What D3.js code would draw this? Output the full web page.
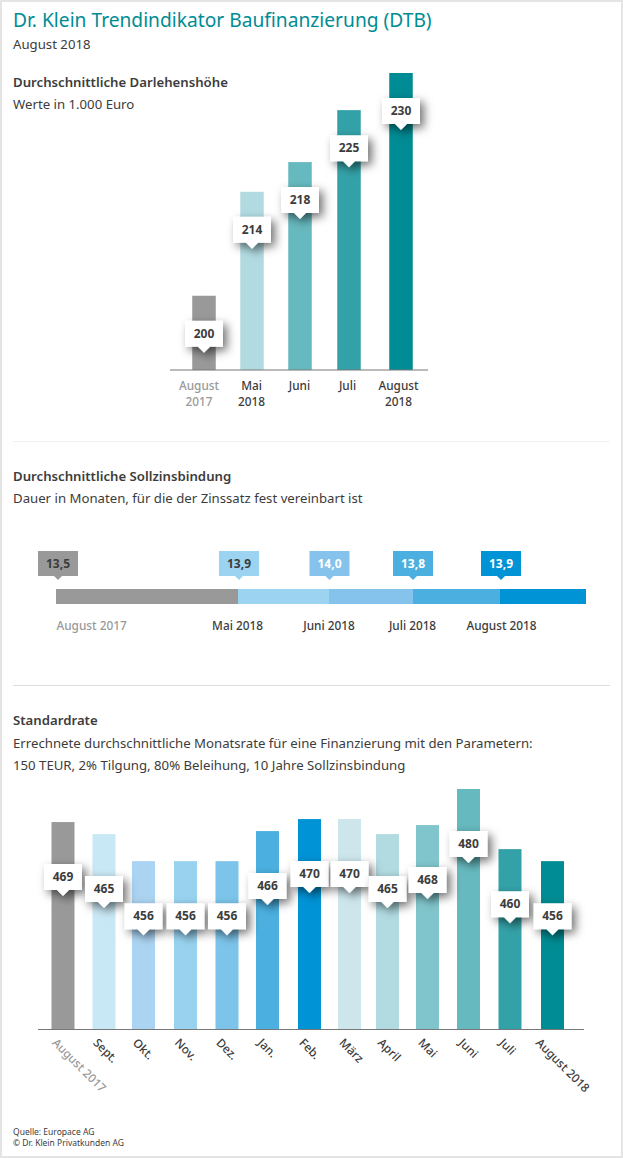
<!DOCTYPE html>
<html>
<head>
<meta charset="utf-8">
<script src="https://cdn.jsdelivr.net/npm/d3@7"></script>
<style>
html, body { margin: 0; padding: 0; background: #fff; }
svg { display: block; font-family: "Noto Sans", sans-serif; }
.txt { fill: #3c3c3c; }
.head { font-weight: 600; font-size: 13.2px; }
.sub { font-size: 13.2px; }
.tag { font-weight: 700; font-size: 12px; text-anchor: middle; }
</style>
</head>
<body>
<div class="main"></div>
<script>
// Darlehenshoehe
var loanCats = ['August 2017', 'Mai 2018', 'Juni', 'Juli', 'August 2018'];
var loanVals = [200, 214, 218, 225, 230];
var loanColors = ['#999999', '#b1dbe1', '#66b9be', '#33a2a8', '#008c94'];

// Sollzinsbindung
var fixCats = ['August 2017', 'Mai 2018', 'Juni 2018', 'Juli 2018', 'August 2018'];
var fixVals = ['13,5', '13,9', '14,0', '13,8', '13,9'];
var fixColors = ['#999999', '#9bd3f0', '#85c3ec', '#4bb0e0', '#0093d6'];
var fixTagText = ['#3c3c3c', '#3c3c3c', '#ffffff', '#ffffff', '#ffffff'];

// Standardrate
var rateCats = ['August 2017', 'Sept.', 'Okt.', 'Nov.', 'Dez.', 'Jan.', 'Feb.', 'März', 'April', 'Mai', 'Juni', 'Juli', 'August 2018'];
var rateVals = [469, 465, 456, 456, 456, 466, 470, 470, 465, 468, 480, 460, 456];
var rateColors = ['#999999', '#c9e8f5', '#abd4f2', '#98d2ef', '#7cc4ea', '#4bb0e0', '#0093d6', '#cce6ec', '#b1dbe1', '#80c5cb', '#66b9be', '#33a2a8', '#008c94'];

var width = 623, height = 1159;
var tagW = 38, tagH = 26, tagTip = 6;
var font = '"Noto Sans", sans-serif';

var svg = d3.select('.main').append('svg')
    .attr('width', width)
    .attr('height', height);

var shadow = svg.append('defs').append('filter')
    .attr('id', 'tagShadow')
    .attr('x', '-40%').attr('y', '-40%')
    .attr('width', '200%').attr('height', '200%');
shadow.append('feDropShadow')
    .attr('dx', 4).attr('dy', 4)
    .attr('stdDeviation', 5)
    .attr('flood-color', '#000')
    .attr('flood-opacity', 0.55);

svg.append('rect')
    .attr('x', 1).attr('y', 1)
    .attr('width', width - 2).attr('height', height - 3)
    .attr('fill', '#fff')
    .attr('stroke', '#e4e4e4')
    .attr('stroke-width', 2);

function text(x, y, str, cls, size) {
  var t = svg.append('text')
      .attr('class', 'txt ' + cls)
      .attr('x', x)
      .attr('y', y)
      .text(str);
  if (size) t.style('font-size', size + 'px');
  return t;
}

function tagPath(w, h, tip) {
  var p = d3.path();
  p.moveTo(-w / 2, 0);
  p.lineTo(w / 2, 0);
  p.lineTo(w / 2, h);
  p.lineTo(tip, h);
  p.lineTo(0, h + tip);
  p.lineTo(-tip, h);
  p.lineTo(-w / 2, h);
  p.closePath();
  return p.toString();
}

// one tag per category, hanging tagOffset below the top of its bar
function tags(cats, vals, x, y, tagOffset) {
  var g = svg.append('g').selectAll('g')
      .data(cats)
      .enter().append('g')
      .attr('transform', function(d, i) {
        return 'translate(' + x(d) + ',' + (y(vals[i]) + tagOffset) + ')';
      });
  g.append('path')
      .attr('d', tagPath(tagW, tagH, tagTip))
      .attr('fill', '#fff')
      .attr('filter', 'url(#tagShadow)');
  g.append('text')
      .attr('class', 'txt tag')
      .attr('y', 17)
      .text(function(d, i) { return vals[i]; });
}

function bars(cats, vals, colors, x, y, barW) {
  svg.append('g').selectAll('rect')
      .data(cats)
      .enter().append('rect')
      .attr('x', function(d) { return x(d) - barW / 2; })
      .attr('y', function(d, i) { return y(vals[i]); })
      .attr('width', barW)
      .attr('height', function(d, i) { return y.range()[0] - y(vals[i]); })
      .attr('fill', function(d, i) { return colors[i]; });
}

function baseline(x1, x2, y) {
  svg.append('line')
      .attr('x1', x1).attr('x2', x2)
      .attr('y1', y).attr('y2', y)
      .attr('stroke', '#777');
}

function divider(y, color) {
  svg.append('line')
      .attr('x1', 13).attr('x2', 610)
      .attr('y1', y).attr('y2', y)
      .attr('stroke', color);
}

// axis labels: no domain line, own font, first one greyed
function styleTicks(axis) {
  axis.select('.domain').remove();
  return axis.selectAll('.tick text')
      .attr('dy', null)
      .style('font-family', font)
      .style('font-weight', 500)
      .style('font-size', '11.8px')
      .style('fill', function(d, i) { return i === 0 ? '#999' : '#3c3c3c'; });
}

// header
text(13, 27, 'Dr. Klein Trendindikator Baufinanzierung (DTB)', 'title', 19.2)
    .style('fill', '#008c94');
text(13, 49, 'August 2018', 'sub');

// chart 1
text(13, 87, 'Durchschnittliche Darlehenshöhe', 'head');
text(13, 109, 'Werte in 1.000 Euro', 'sub');

var loanX = d3.scaleOrdinal().domain(loanCats).range([204, 252, 300, 349, 401]);
var loanLabelX = d3.scaleOrdinal().domain(loanCats).range([198.5, 251, 299, 347, 398]);
var loanY = d3.scaleLinear().domain([190, 230]).range([370, 73]);

bars(loanCats, loanVals, loanColors, loanX, loanY, 23.5);
baseline(170, 428, 370);
tags(loanCats, loanVals, loanX, loanY, 25);

var loanAxis = svg.append('g')
    .attr('transform', 'translate(0,370)')
    .call(d3.axisBottom(loanLabelX).tickSize(0).tickPadding(0).tickFormat(''));
styleTicks(loanAxis)
    .attr('y', 0)
    .each(function(d) {
      var el = d3.select(this);
      d.split(' ').forEach(function(p, k) {
        el.append('tspan').attr('x', 0).attr('y', 20 + k * 15.5).text(p);
      });
    });

divider(441.5, '#f1f1f1');

// chart 2
text(13, 481, 'Durchschnittliche Sollzinsbindung', 'head');
text(13, 503, 'Dauer in Monaten, für die der Zinssatz fest vereinbart ist', 'sub');

var fixEdge = d3.scaleOrdinal().domain(fixCats).range([56, 238, 329, 413, 500]);
var fixEnd = d3.scaleOrdinal().domain(fixCats).range([238, 329, 413, 500, 586]);
var fixTagX = d3.scaleOrdinal().domain(fixCats).range([58, 239, 329.5, 413, 501]);
var fixLabelX = d3.scaleOrdinal().domain(fixCats).range([56, 237, 328.5, 412, 501]);

svg.append('g').selectAll('rect')
    .data(fixCats)
    .enter().append('rect')
    .attr('x', function(d) { return fixEdge(d); })
    .attr('y', 589)
    .attr('width', function(d) { return fixEnd(d) - fixEdge(d); })
    .attr('height', 15)
    .attr('fill', function(d, i) { return fixColors[i]; });

var fixTags = svg.append('g').selectAll('g')
    .data(fixCats)
    .enter().append('g')
    .attr('transform', function(d) { return 'translate(' + fixTagX(d) + ',551)'; });
fixTags.append('path')
    .attr('d', tagPath(40, 25, 4))
    .attr('fill', function(d, i) { return fixColors[i]; });
fixTags.append('text')
    .attr('class', 'tag')
    .attr('y', 17)
    .style('fill', function(d, i) { return fixTagText[i]; })
    .text(function(d, i) { return fixVals[i]; });

var fixAxis = svg.append('g')
    .attr('transform', 'translate(0,604)')
    .call(d3.axisBottom(fixLabelX).tickSize(0).tickPadding(0));
styleTicks(fixAxis)
    .attr('y', 26)
    .style('text-anchor', function(d, i) { return i === 0 ? 'start' : 'middle'; });

divider(685.5, '#dddddd');

// chart 3
text(13, 725, 'Standardrate', 'head');
text(13, 748, 'Errechnete durchschnittliche Monatsrate für eine Finanzierung mit den Parametern:', 'sub');
text(13, 770, '150 TEUR, 2% Tilgung, 80% Beleihung, 10 Jahre Sollzinsbindung', 'sub');

var rateX = d3.scaleOrdinal().domain(rateCats)
    .range([63, 104, 143.5, 185.5, 227, 267.5, 309.5, 349.5, 387.5, 427.5, 468.5, 510, 552.5]);
var rateLabelX = d3.scaleOrdinal().domain(rateCats)
    .range([63, 104, 143.5, 185.5, 227, 268.5, 310, 350, 388.5, 429, 469.5, 510, 546.5]);
var rateY = d3.scaleLinear().domain([400, 480]).range([1029.5, 789]);

bars(rateCats, rateVals, rateColors, rateX, rateY, 23);
baseline(38, 584, 1029.5);
tags(rateCats, rateVals, rateX, rateY, 42);

var rateAxis = svg.append('g')
    .attr('transform', 'translate(0,1029.5)')
    .call(d3.axisBottom(rateLabelX).tickSize(0).tickPadding(0));
styleTicks(rateAxis)
    .attr('y', null)
    .attr('transform', 'translate(-12,14) rotate(45)')
    .style('text-anchor', 'start');

// footer
text(13, 1135, 'Quelle: Europace AG', 'foot', 8.5);
text(13, 1146, '© Dr. Klein Privatkunden AG', 'foot', 8.5);
</script>
</body>
</html>
